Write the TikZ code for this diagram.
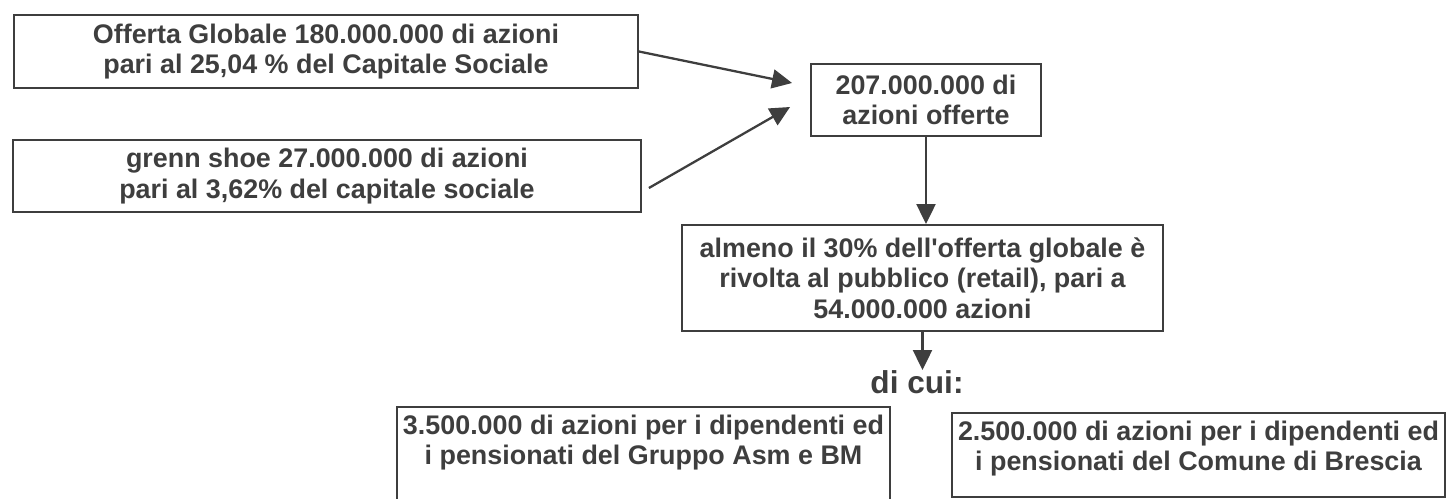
\documentclass[tikz,border=0pt]{standalone}
\usepackage{fontspec}
\setmainfont{Liberation Sans}
\usetikzlibrary{arrows.meta}
\usetikzlibrary{calc}

\definecolor{scan}{RGB}{62,62,62}

\begin{document}
\begin{tikzpicture}[x=0.02cm,y=-0.02cm,
  every node/.style={text=scan,font=\bfseries\fontsize{15.3}{17.3}\selectfont},
  box/.style={draw=scan,line width=1.1pt,inner sep=0pt,align=center},
  flow/.style={draw=scan,line width=1.3pt,-{Triangle[length=0.4cm,width=0.38cm]}}]
\useasboundingbox (0,0) rectangle (1450,499);
\node[box,minimum width=12.48cm,minimum height=1.46cm] (glob) at (326,51.5) {Offerta Globale 180.000.000 di azioni\\pari al 25,04 \% del Capitale Sociale};
\node[box,minimum width=12.56cm,minimum height=1.44cm] (shoe) at (327,176) {grenn shoe 27.000.000 di azioni\\pari al 3,62\% del capitale sociale};
\node[box,minimum width=4.6cm,minimum height=1.44cm] (tot) at (926,100) {207.000.000 di\\azioni offerte};
\node[box,minimum width=9.62cm,minimum height=2.12cm] (retail) at (922.5,278) {almeno il 30\% dell\textquotesingle offerta globale è\\rivolta al pubblico (retail), pari a\\54.000.000 azioni};
\node[inner sep=0pt,font=\bfseries\fontsize{18}{21}\selectfont] (cui) at (917,382) {di cui:};
% quote riservate
\node[box,minimum width=9.86cm,minimum height=1.92cm] (asm) at (643.5,455) {};
\node[anchor=north,align=center,font=\bfseries\fontsize{15.3}{16.8}\selectfont] (asmtxt) at ($(asm.north)+(0,3)$) {3.500.000 di azioni per i dipendenti ed\\i pensionati del Gruppo Asm e BM};
\node[box,minimum width=9.86cm,minimum height=1.68cm] (bs) at (1198.5,455) {};
\node[anchor=north,align=center,font=\bfseries\fontsize{15.3}{16.8}\selectfont] (bstxt) at ($(bs.north)+(0,3)$) {2.500.000 di azioni per i dipendenti ed\\i pensionati del Comune di Brescia};
\draw[flow] (glob.east) -- ($(tot.west)+(-18,-17)$);
\draw[flow] ($(shoe.east)+(7,12)$) -- ($(tot.west)+(-20,7)$);
\draw[flow] (tot.south) -- (tot.south |- retail.north);
\draw[flow] (retail.south) -- (retail.south |- cui.north);
\end{tikzpicture}
\end{document}
